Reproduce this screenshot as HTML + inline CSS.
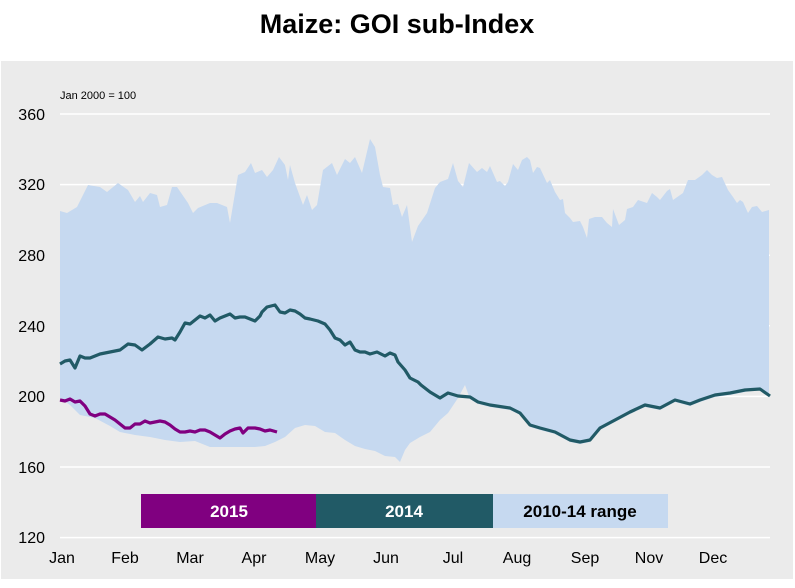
<!DOCTYPE html>
<html><head><meta charset="utf-8"><style>
body{margin:0;background:#fff;font-family:"Liberation Sans",Arial,sans-serif}
</style></head><body>
<svg width="795" height="583" xmlns="http://www.w3.org/2000/svg" font-family="Liberation Sans, Arial, sans-serif">
<rect x="0" y="0" width="795" height="583" fill="#fff"/>
<text x="397" y="33" text-anchor="middle" font-size="27" font-weight="bold" fill="#000">Maize: GOI sub-Index</text>
<rect x="1" y="61" width="792" height="518" fill="#ebebeb"/>
<g stroke="#fff" stroke-width="1.5">
<line x1="60" x2="770" y1="114" y2="114"/><line x1="60" x2="770" y1="184.6" y2="184.6"/>
<line x1="60" x2="770" y1="255.2" y2="255.2"/><line x1="60" x2="770" y1="325.8" y2="325.8"/>
<line x1="60" x2="770" y1="396.4" y2="396.4"/><line x1="60" x2="770" y1="467" y2="467"/>
<line x1="60" x2="770" y1="537.6" y2="537.6"/>
</g>
<text x="60" y="99" font-size="11" fill="#000">Jan 2000 = 100</text>
<g font-size="16" fill="#000" text-anchor="end">
<text x="45" y="120">360</text><text x="45" y="190">320</text><text x="45" y="261">280</text>
<text x="45" y="332">240</text><text x="45" y="402">200</text><text x="45" y="473">160</text><text x="45" y="543">120</text>
</g>
<path fill="#c6d9f0" d="M60,211 L67,213 L77,207 L88,185 L100,187 L107,192 L118,183 L128,190 L135,202 L140,196 L143,202 L150,193 L157,195 L160,207 L167,205 L172,187 L177,187 L188,203 L193,213 L198,208 L210,203 L217,203 L227,207 L230,223 L238,175 L245,172 L251,163 L255,173 L262,170 L267,177 L273,170 L279,157 L285,165 L288,180 L290,165 L295,183 L303,205 L307,195 L312,210 L317,205 L323,170 L332,163 L337,175 L345,159 L350,163 L355,157 L362,173 L370,139 L375,147 L380,175 L383,187 L390,188 L393,205 L398,204 L402,217 L407,205 L412,242 L418,226 L427,213 L435,188 L440,182 L448,179 L453,163 L458,181 L463,187 L469,163 L477,172 L482,168 L487,172 L490,166 L497,182 L500,181 L505,186 L508,182 L513,164 L518,170 L522,160 L527,157 L530,160 L533,173 L537,167 L540,168 L547,183 L550,180 L555,192 L560,200 L563,199 L565,213 L570,218 L573,222 L580,221 L583,227 L587,238 L589,219 L595,217 L602,217 L607,223 L612,227 L613,209 L619,225 L625,220 L627,209 L633,207 L638,200 L647,203 L652,193 L657,197 L660,200 L667,191 L670,189 L673,200 L683,193 L688,180 L695,180 L702,175 L707,170 L712,175 L717,178 L722,177 L728,190 L733,197 L737,203 L740,200 L743,202 L748,213 L752,207 L757,206 L762,212 L769,210
L769,396 L760,389 L745,392 L730,395 L715,397 L700,402 L690,406 L675,402 L660,410 L645,407 L630,414 L615,422 L600,430 L590,442 L580,444 L570,442 L555,434 L540,430 L530,427 L520,415 L510,410 L490,407 L478,404 L470,399 L465,385 L458,398 L448,413 L440,420 L430,432 L420,437 L410,443 L405,450 L400,462 L395,457 L385,456 L375,451 L365,449 L355,446 L345,440 L335,433 L325,432 L315,426 L305,425 L295,428 L285,437 L275,442 L265,446 L255,447 L245,447 L230,447 L210,447 L195,441 L180,442 L165,440 L150,437 L135,435 L120,432 L110,426 L95,418 L80,415 L70,405 L60,398 Z"/>
<polyline fill="none" stroke="#215a66" stroke-width="3.2" stroke-linejoin="round" points="60,364 65,361 70,360 75,368 80,356 85,358 90,358 95,356 100,354 110,352 120,350 128,344 135,345 142,350 150,344 158,337 165,339 172,338 175,340 180,332 185,323 190,324 195,320 200,316 205,318 210,315 215,321 220,318 225,316 230,314 235,318 240,317 245,317 250,319 255,321 260,316 262,312 267,307 275,305 280,312 285,313 290,310 295,311 300,314 305,318 310,319 318,321 325,324 330,330 335,338 340,340 345,345 350,342 355,350 360,352 365,352 370,354 377,352 385,356 390,353 395,355 398,362 405,370 410,378 418,382 421,385 430,392 440,398 448,393 458,396 470,397 478,402 490,405 510,408 520,413 530,425 540,428 555,432 570,440 580,442 590,440 600,428 615,420 630,412 645,405 660,408 675,400 690,404 700,400 715,395 730,393 745,390 760,389 770,396"/>
<polyline fill="none" stroke="#800080" stroke-width="3.2" stroke-linejoin="round" points="60,400 65,401 70,399 75,402 80,401 85,406 90,414 95,416 100,414 105,414 110,417 115,420 120,424 125,428 130,428 135,424 140,424 145,421 150,423 155,422 160,421 165,422 170,425 175,429 180,432 185,432 190,431 195,432 200,430 205,430 210,432 215,435 220,438 225,434 230,431 235,429 240,428 243,433 248,428 255,428 260,429 265,431 270,430 277,432"/>
<rect x="141" y="494" width="175" height="34" fill="#800080"/>
<rect x="316" y="494" width="177" height="34" fill="#215a66"/>
<rect x="493" y="494" width="175" height="34" fill="#c6d9f0"/>
<g font-size="17" font-weight="bold" text-anchor="middle">
<text x="229" y="517" fill="#fff">2015</text><text x="404" y="517" fill="#fff">2014</text><text x="580" y="517" fill="#000">2010-14 range</text>
</g>
<g font-size="16" fill="#000" text-anchor="middle">
<text x="62" y="563">Jan</text><text x="125" y="563">Feb</text><text x="190" y="563">Mar</text><text x="254" y="563">Apr</text>
<text x="320" y="563">May</text><text x="386" y="563">Jun</text><text x="453" y="563">Jul</text><text x="517" y="563">Aug</text>
<text x="585" y="563">Sep</text><text x="649" y="563">Nov</text><text x="713" y="563">Dec</text>
</g>
</svg>
</body></html>
